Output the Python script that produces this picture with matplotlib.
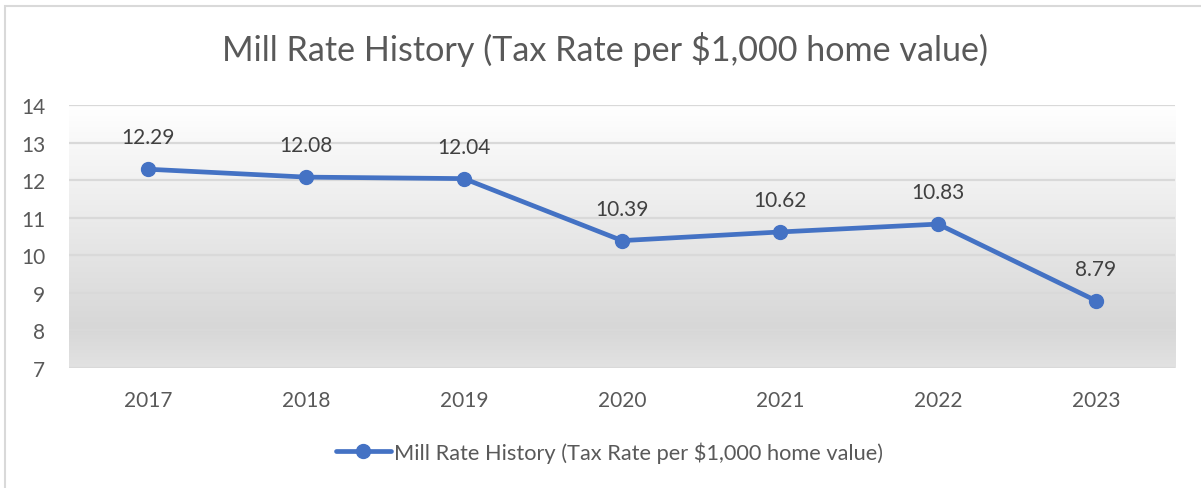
import matplotlib
matplotlib.use("Agg")
from matplotlib import pyplot as plt
from matplotlib.lines import Line2D
import matplotlib.patches as mpatches
import numpy as np

years = ['2017', '2018', '2019', '2020', '2021', '2022', '2023']
mill_rates = [12.29, 12.08, 12.04, 10.39, 10.62, 10.83, 8.79]
y_ticks = [7, 8, 9, 10, 11, 12, 13, 14]
title = 'Mill Rate History (Tax Rate per $1,000 home value)'

blue = '#4472C4'
grey_txt = '#595959'
grid_col = '#d9d9d9'

plt.rcParams['font.family'] = ['Lato', 'DejaVu Sans']

fig = plt.figure(figsize=(12.01, 4.89), dpi=100)
ax = fig.add_axes([0.0575, 0.2454, 0.9209, 0.5379])

x = np.arange(len(years))
ax.set_xlim(-0.5, len(years) - 0.5)
ax.set_ylim(7, 14)

# gradient fill of plot area (white at top -> grey near bottom)
stops = np.array([0.0, 0.85, 1.0])
vals = np.array([255, 215, 226]) / 255.0
t = np.linspace(0, 1, 256)
g = np.interp(t, stops, vals)
grad = np.dstack([g, g, g]).reshape(256, 1, 3)
ax.imshow(grad, aspect='auto', extent=(-0.5, len(years) - 0.5, 7, 14),
          origin='upper', zorder=0, interpolation='bilinear')

for yv in y_ticks:
    ax.axhline(yv, color=grid_col, lw=1.6, zorder=1)

ax.plot(x, mill_rates, color=blue, lw=3.4, marker='o', markersize=10,
        solid_capstyle='round', zorder=3)

for xi, v in zip(x, mill_rates):
    ax.annotate(f'{v:.2f}', (xi, v), xytext=(0, 23), textcoords='offset points',
                ha='center', va='center', fontsize=15, color='#404040')

for s in ax.spines.values():
    s.set_visible(False)

ax.set_xticks(x)
ax.set_xticklabels(years)
ax.set_yticks(y_ticks)
ax.tick_params(axis='both', length=0, labelsize=15, colors=grey_txt)
ax.tick_params(axis='x', pad=16)
ax.tick_params(axis='y', pad=17)

fig.text(0.504, 0.898, title, ha='center', va='center', fontsize=24.6,
         color=grey_txt)

handle = Line2D([], [], color=blue, lw=3.4, marker='o', markersize=10,
                solid_capstyle='round')
fig.legend(handles=[handle], labels=[title], loc='center',
           bbox_to_anchor=(0.5075, 0.074), frameon=False, fontsize=15.7,
           labelcolor=grey_txt, handlelength=2.55, handletextpad=0.15)

# chart outer border
border = mpatches.Rectangle((5 / 1201, -0.05), 1.2, 1.0 - 7 / 489 + 0.05,
                            transform=fig.transFigure, fill=False,
                            edgecolor='#d9d9d9', lw=1.5, clip_on=False)
fig.patches.append(border)

fig.savefig('out.png', dpi=100)
